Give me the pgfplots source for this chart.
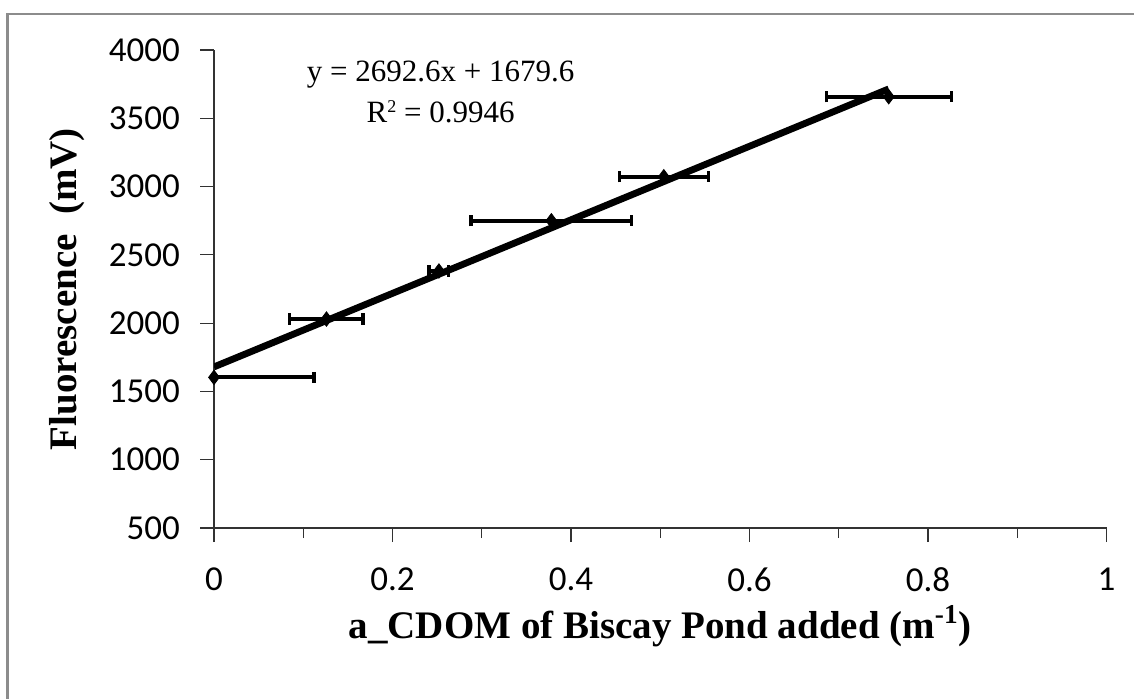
\documentclass[border=0pt]{standalone}
\usepackage{fontspec}
\usepackage{pgfplots}
\pgfplotsset{compat=1.18}
\setmainfont{Liberation Serif}
\newfontfamily\calibri{Carlito}
\definecolor{framegray}{RGB}{140,140,140}
\definecolor{axgray}{RGB}{50,50,50}
\pgfplotstableread{
x      y     ex
0      1603  0.112
0.126  2030  0.041
0.252  2382  0.011
0.378  2750  0.090
0.504  3072  0.050
0.756  3658  0.070
}\datatable
\begin{document}
\begin{tikzpicture}
\useasboundingbox (0,0) rectangle (567pt,349pt);
\begin{axis}[
  at={(107pt,85pt)}, anchor=south west,
  scale only axis, width=446.25pt, height=239pt,
  xmin=0, xmax=1, ymin=500, ymax=4000,
  axis lines*=left,
  axis line style={axgray, line width=0.75pt},
  xtick={0,0.2,0.4,0.6,0.8,1},
  minor xtick={0.1,0.3,0.5,0.7,0.9},
  ytick={500,1000,1500,2000,2500,3000,3500,4000},
  tick align=outside,
  major tick length=7pt, minor tick length=5pt,
  tick style={axgray, line width=0.6pt},
  /pgf/number format/1000 sep={},
  /pgf/number format/assume math mode=true,
  ticklabel style={font=\calibri\fontsize{17.5}{21}\selectfont},
  yticklabel style={anchor=east, xshift=-6.5pt},
  xticklabel style={anchor=north, yshift=-11.7pt, inner sep=1pt},
  xlabel={a\_CDOM of Biscay Pond added (m\textsuperscript{-1})},
  ylabel={Fluorescence\ \ (mV)},
  label style={font=\fontsize{19.5}{23}\selectfont\bfseries},
  xlabel style={at={(axis description cs:0.5,-0.205)}, anchor=center, inner sep=0pt},
  ylabel style={at={(axis description cs:-0.1647,0.5)}, anchor=center},
  clip mode=individual,
]
\addplot[black, only marks, mark=diamond*, mark size=3.6pt,
  error bars/.cd, x dir=both, x explicit,
  error mark=|,
  error bar style={line width=2pt, black},
  error mark options={line width=1.6pt, mark size=2.8pt, black, rotate=0}]
  table[x=x, y=y, x error=ex]{\datatable};
\addplot[black, line width=3.4pt, no marks] coordinates {(0,1679.6) (0.756,3715.2)};
\node[font=\fontsize{15.5}{19}\selectfont] at (axis cs:0.254,3819) {y = 2692.6x + 1679.6};
\node[font=\fontsize{15.5}{19}\selectfont] at (axis cs:0.254,3548) {R\raisebox{0.75ex}{\fontsize{9}{9}\selectfont 2} = 0.9946};
\end{axis}
\draw[framegray, line width=1.3pt] (3.7pt,-2pt) -- (3.7pt,342pt) -- (570pt,342pt);
\end{tikzpicture}
\end{document}
